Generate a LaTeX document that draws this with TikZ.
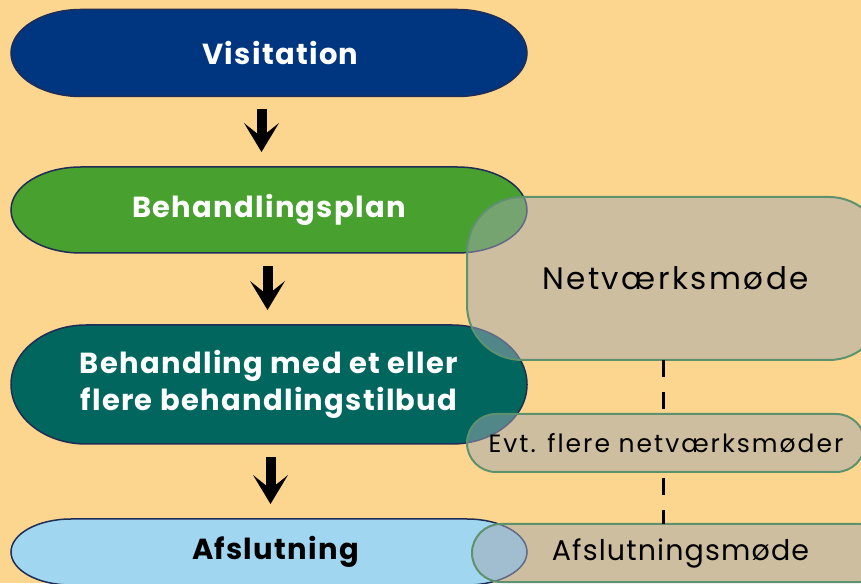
\documentclass[tikz,border=0pt]{standalone}
\usepackage{fontspec}
\setmainfont{Poppins}
\newfontfamily\pillfont[LetterSpace=4.5]{Poppins}
\newfontfamily\meetfont[LetterSpace=8]{Poppins}
\usepackage{tikz}
\usetikzlibrary{arrows.meta, calc, backgrounds}

\definecolor{bgorange}{RGB}{252,214,142}
\definecolor{visblue}{RGB}{0,54,128}
\definecolor{plangreen}{RGB}{72,160,46}
\definecolor{behteal}{RGB}{0,102,94}
\definecolor{afslblue}{RGB}{160,214,240}
\definecolor{pillborder}{RGB}{30,44,86}
\definecolor{meetgray}{RGB}{162,168,178}
\definecolor{meetborder}{RGB}{94,146,110}

\tikzset{
  pill/.style={minimum width=516pt, outer sep=0pt, inner sep=0pt, align=center, text=white,
    font=\pillfont\bfseries\fontsize{29}{37}\selectfont},
  pillline/.style={draw=pillborder, line width=1.5pt},
  meeting/.style={draw=meetborder, line width=2pt, fill=meetgray, fill opacity=0.5, text opacity=1,
    minimum height=58pt, rounded corners=29pt, outer sep=0pt, font=\meetfont\fontsize{25}{30}\selectfont},
  downarrow/.style={line width=10pt, -{Stealth[length=29pt, width=35pt, inset=14pt, line width=0pt]},
    shorten <=13pt, shorten >=15pt},
  link/.style={line width=3pt, dash pattern=on 17pt off 15pt}
}

\newcommand{\pillfill}[3]{%
  \path[pillline, fill=#2] let \p1=(#1.north west), \p2=(#1.south east), \n1={(\y1-\y2)/2} in
    (\x1+#3,\y1) -- (\x2-#3,\y1)
    arc[start angle=90, end angle=-90, x radius=#3, y radius=\n1]
    -- (\x1+#3,\y2)
    arc[start angle=270, end angle=90, x radius=#3, y radius=\n1] -- cycle;}

\begin{document}
\begin{tikzpicture}[x=1pt, y=1pt]
\useasboundingbox (0,0) rectangle (861,583);

\node[pill, minimum height=87pt] (vis) at (269,530) {\hspace*{23pt}Visitation};
\node[pill, minimum height=86pt] (plan) at (269,373) {Behandlingsplan};
\node[pill, minimum height=119pt] (beh) at (269,198.5) {Behandling med et eller\\flere behandlingstilbud};
\node[pill, minimum height=66pt, text=black] (afsl) at (269,31) {\hspace*{13pt}Afslutning};

\begin{scope}[on background layer]
\fill[bgorange] (0,0) rectangle (861,583);
\pillfill{vis}{visblue}{70pt}
\pillfill{plan}{plangreen}{70pt}
\pillfill{beh}{behteal}{75pt}
\pillfill{afsl}{afslblue}{60pt}
\end{scope}

\draw[downarrow] ([xshift=-7.5pt]vis.south) -- ([xshift=-7.5pt]plan.north);
\draw[downarrow] ([xshift=-1.5pt]plan.south) -- ([xshift=-1.5pt]beh.north);
\draw[downarrow] ([xshift=1.5pt]beh.south) -- ([xshift=1.5pt]afsl.north);

\node[meeting, minimum width=417pt, minimum height=163pt, rounded corners=55pt,
  font=\meetfont\fontsize{31}{36}\selectfont] (netv) at (675.5,304.5) {Netværksmøde};
\node[meeting, minimum width=398pt] (evt) at (666,140) {Evt. flere netværksmøder};
\node[meeting, minimum width=417pt, font=\meetfont\addfontfeature{LetterSpace=4}\fontsize{28.5}{34}\selectfont]
  (afslm) at (680.5,30) {Afslutningsmøde};

\draw[link] ([xshift=-12.5pt]netv.south) -- ([xshift=-12.5pt]netv.south |- evt.north);
\draw[link, dash phase=26pt] ([xshift=-3pt]evt.south) -- ([xshift=-3pt]evt.south |- afslm.north);
\end{tikzpicture}
\end{document}
